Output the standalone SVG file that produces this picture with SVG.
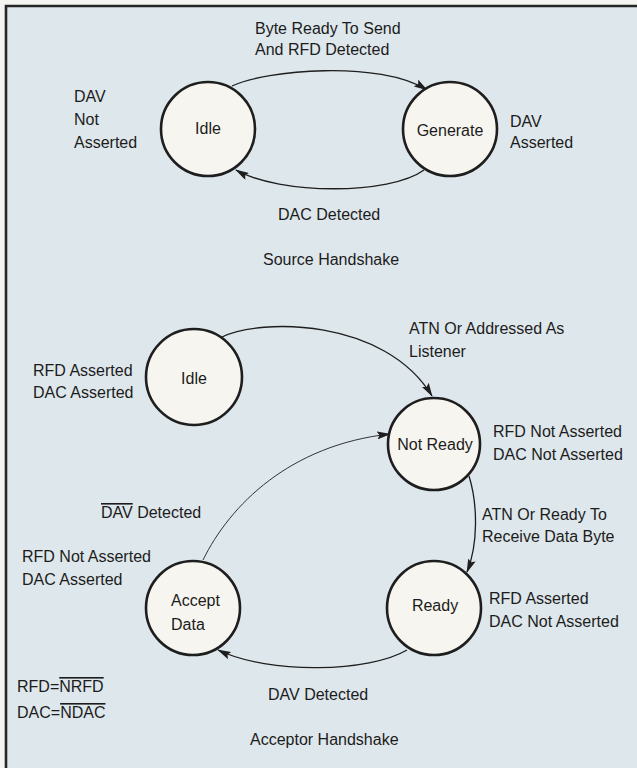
<svg xmlns="http://www.w3.org/2000/svg" width="637" height="768" viewBox="0 0 637 768">
  <defs>
    <marker id="arrow" viewBox="0 0 14 8" refX="13" refY="4" markerWidth="14" markerHeight="8" markerUnits="userSpaceOnUse" orient="auto">
      <path d="M0,0 L14,4 L0,8 L2.5,4 z" fill="#1e1e1e"/>
    </marker>
  </defs>
  <style>
    text { font-family: "Liberation Sans", Arial, Helvetica, sans-serif; font-size: 16px; fill: #1c1c1c; }
    .mid { text-anchor: middle; }
    .state { fill: #f6f5ef; stroke: #1e1e1e; stroke-width: 2.6; }
    .edge { fill: none; stroke: #1e1e1e; stroke-width: 1.3; marker-end: url(#arrow); }
    .thin { stroke-width: 0.9; }
    .bar { text-decoration: overline; }
  </style>

  <!-- page and panel -->
  <rect x="0" y="0" width="637" height="768" fill="#f4f4f1"/>
  <rect x="6" y="6" width="631" height="762" fill="#dee7eb"/>
  <path d="M6,768 V6 H637" fill="none" stroke="#262626" stroke-width="2.6"/>

  <!-- transitions -->
  <g id="connectors">
    <path class="edge" d="M232,86 C265,70 380,60 427,90"/>
    <path class="edge" d="M424,170 C390,195 280,195 236,170"/>
    <path class="edge" d="M222,337 C260,318 385,318 432,396"/>
    <path class="edge thin" d="M203,560 C230,505 290,445 390,434"/>
    <path class="edge" d="M469,476 C478,505 478,545 467,572"/>
    <path class="edge" d="M407,650 C370,672 270,675 218,650"/>
  </g>

  <!-- source handshake -->
  <g id="src-idle">
    <circle class="state" cx="208" cy="129" r="47"/>
    <text class="mid" x="208" y="134">Idle</text>
  </g>
  <g id="src-generate">
    <circle class="state" cx="450" cy="129" r="47"/>
    <text class="mid" x="450" y="136">Generate</text>
  </g>
  <g id="src-labels">
    <text x="255" y="34">Byte Ready To Send</text>
    <text x="255" y="55">And RFD Detected</text>
    <text x="74" y="102">DAV</text>
    <text x="74" y="125">Not</text>
    <text x="74" y="148">Asserted</text>
    <text x="510" y="127">DAV</text>
    <text x="510" y="148">Asserted</text>
    <text x="278" y="220">DAC Detected</text>
    <text x="263" y="265">Source Handshake</text>
  </g>

  <!-- acceptor handshake -->
  <g id="acc-idle">
    <circle class="state" cx="194" cy="377" r="48"/>
    <text class="mid" x="194" y="384">Idle</text>
  </g>
  <g id="acc-not-ready">
    <circle class="state" cx="434" cy="444" r="46"/>
    <text class="mid" x="435" y="450">Not Ready</text>
  </g>
  <g id="acc-ready">
    <circle class="state" cx="434" cy="608" r="47"/>
    <text class="mid" x="435" y="611">Ready</text>
  </g>
  <g id="acc-accept-data">
    <circle class="state" cx="193" cy="608" r="47"/>
    <text x="171" y="606">Accept</text>
    <text x="171" y="630">Data</text>
  </g>
  <g id="acc-labels">
    <text x="33" y="376">RFD Asserted</text>
    <text x="33" y="398">DAC Asserted</text>
    <text x="409" y="334">ATN Or Addressed As</text>
    <text x="409" y="357">Listener</text>
    <text x="493" y="437">RFD Not Asserted</text>
    <text x="493" y="460">DAC Not Asserted</text>
    <text x="482" y="520">ATN Or Ready To</text>
    <text x="482" y="542">Receive Data Byte</text>
    <text x="101" y="518"><tspan class="bar">DAV</tspan> Detected</text>
    <text x="22" y="562">RFD Not Asserted</text>
    <text x="22" y="585">DAC Asserted</text>
    <text x="489" y="604">RFD Asserted</text>
    <text x="489" y="627">DAC Not Asserted</text>
    <text x="268" y="700">DAV Detected</text>
    <text x="250" y="745">Acceptor Handshake</text>
    <text x="17" y="692">RFD=<tspan class="bar">NRFD</tspan></text>
    <text x="17" y="718">DAC=<tspan class="bar">NDAC</tspan></text>
  </g>
</svg>
